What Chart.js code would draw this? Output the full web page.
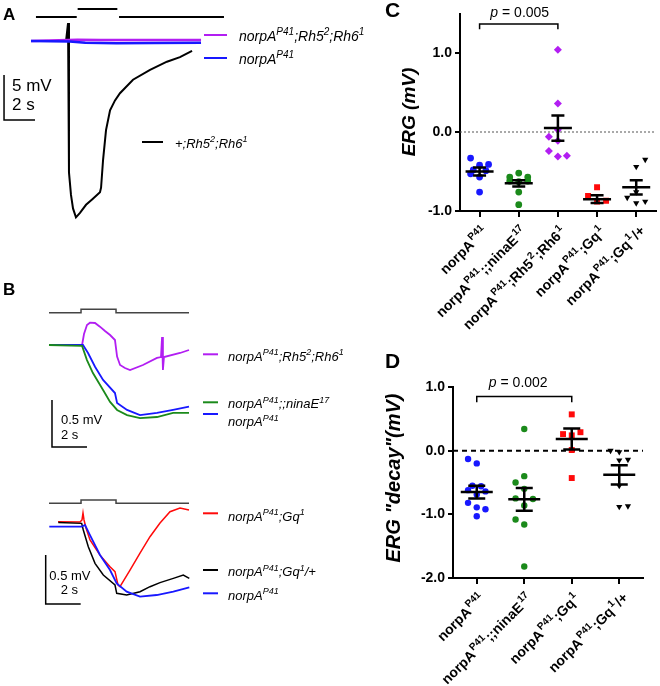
<!DOCTYPE html>
<html>
<head>
<meta charset="utf-8">
<script src="https://cdn.jsdelivr.net/npm/chart.js@4.4.1/dist/chart.umd.min.js"></script>
<style>
  html, body { margin: 0; padding: 0; background: #fff; }
  #fig { position: relative; width: 660px; height: 686px; overflow: hidden; font-family: "Liberation Sans", Arial, sans-serif; }
  #fig canvas { position: absolute; }
  .panel { position: absolute; font-weight: bold; line-height: 1; }
</style>
</head>
<body>
<div id="fig">
  <canvas id="chartA" width="380" height="235" style="left:0;top:0"></canvas>
  <canvas id="chartB" width="380" height="340" style="left:0;top:280px"></canvas>
  <canvas id="chartC" width="330" height="340" style="left:330px;top:0"></canvas>
  <canvas id="chartD" width="330" height="346" style="left:330px;top:340px"></canvas>
  <div class="panel" style="left:3px;top:6px;font-size:17px">A</div>
  <div class="panel" style="left:3px;top:281px;font-size:17px">B</div>
  <div class="panel" style="left:385px;top:-1px;font-size:21px">C</div>
  <div class="panel" style="left:385px;top:350px;font-size:21px">D</div>
</div>
<script>
// ---------- A: ERG traces (s, mV) ----------
const aStimT = [0.32, 2.95, 2.98, 3.01, 5.57, 5.62, 5.68, 12.45];
const aStimV = [2.67, 2.67, null, 3.56, 3.56, null, 2.67, 2.67];
const aPurpleT = [0, 3.0, 4.5, 7.0, 10.97];
const aPurpleV = [0, 0.15, 0.12, 0.10, 0.10];
const aBlueT = [0, 2.5, 3.5, 5.5, 8.0, 10.97];
const aBlueV = [0, -0.05, -0.20, -0.25, -0.22, -0.20];
const aBlackT = [0, 2.26, 2.39, 2.45, 2.58, 2.71, 2.90, 3.16, 3.55, 3.94, 4.45, 4.52, 4.65, 4.84, 5.10, 5.42, 5.74, 6.58, 7.68, 8.77, 9.61, 10.39];
const aBlackV = [0, 0, 2.0, -14.6, -17.1, -18.6, -19.6, -19.1, -18.2, -17.6, -16.8, -16.3, -13.2, -9.9, -7.7, -6.6, -5.8, -4.3, -3.2, -2.3, -1.8, -1.1];

// ---------- B top: norpA / Rh5;Rh6 / ninaE (s, mV) ----------
const bTopStimT = [0, 1.83, 1.83, 3.83, 3.83, 8.0];
const bTopStimV = [0.344, 0.344, 0.380, 0.380, 0.344, 0.344];
const bPurpleT = [0, 1.89, 2.0, 2.17, 2.34, 2.63, 2.91, 3.2, 3.49, 3.77, 3.89, 4.06, 4.34, 4.63, 5.37, 6.17, 6.4, 6.46, 6.51, 6.57, 7.49, 8.0];
const bPurpleV = [0, 0, 0.117, 0.213, 0.237, 0.234, 0.195, 0.149, 0.106, 0.053, -0.124, -0.213, -0.245, -0.266, -0.213, -0.138, -0.128, 0.085, -0.266, -0.128, -0.085, -0.053];
const bGreenT = [0, 1.89, 2.17, 2.51, 3.09, 3.49, 3.89, 4.46, 5.2, 6.17, 7.09, 8.0];
const bGreenV = [0, -0.01, -0.16, -0.298, -0.479, -0.606, -0.691, -0.745, -0.777, -0.766, -0.723, -0.723];
const bBlueT = [0, 1.94, 2.23, 2.63, 3.09, 3.77, 3.89, 4.46, 5.2, 6.17, 7.09, 8.0];
const bBlueV = [0, 0, -0.085, -0.231, -0.372, -0.511, -0.617, -0.691, -0.745, -0.723, -0.691, -0.656];

// ---------- B bottom: Gq (s, mV) ----------
const bBotStimT = [0, 1.83, 1.83, 3.83, 3.83, 8.0];
const bBotStimV = [0.239, 0.239, 0.272, 0.272, 0.239, 0.239];
const bRedT = [0.514, 1.771, 1.886, 1.943, 2.0, 2.114, 2.343, 2.914, 3.486, 3.771, 3.943, 4.057, 4.629, 5.2, 5.771, 6.343, 6.914, 7.486, 8.0];
const bRedV = [0.051, 0.048, 0.069, 0.140, 0.069, -0.013, -0.136, -0.290, -0.409, -0.459, -0.595, -0.612, -0.443, -0.270, -0.102, 0.038, 0.153, 0.191, 0.170];
const bBlackT = [0.533, 1.867, 1.960, 2.246, 2.629, 3.103, 3.771, 3.869, 4.440, 5.2, 5.771, 6.343, 7.103, 7.674, 8.017];
const bBlackV = [0.044, 0.034, -0.034, -0.204, -0.374, -0.493, -0.595, -0.680, -0.697, -0.663, -0.612, -0.571, -0.527, -0.493, -0.527];
const bBlue2T = [0.017, 1.867, 2.057, 2.343, 2.914, 3.486, 3.869, 4.440, 5.2, 6.154, 7.103, 8.017];
const bBlue2V = [0, 0, 0.017, -0.085, -0.289, -0.442, -0.578, -0.663, -0.714, -0.697, -0.663, -0.619];

// ---------- C: ERG amplitude (mV) ----------
const cLabels = ['norpA^{P41}', 'norpA^{P41};;ninaE^{17}', 'norpA^{P41};Rh5^{2};Rh6^{1}', 'norpA^{P41};Gq^{1}', 'norpA^{P41};Gq^{1}/+'];
const cNorpA = [-0.33, -0.42, -0.41, -0.48, -0.49, -0.53, -0.57, -0.76];
const cNorpACol = [-1, 0, 1, -0.7, 0.7, -1, 0, 0];
const cNinaE = [-0.52, -0.57, -0.57, -0.62, -0.63, -0.62, -0.76, -0.92];
const cNinaECol = [0, -1, 1, -1, 0, 1, 0, 0];
const cRh = [1.04, 0.36, 0.03, -0.06, -0.11, -0.24, -0.31, -0.30];
const cRhCol = [0, 0, 0, -1, 0, -1, 0, 1];
const cGq = [-0.70, -0.81, -0.88, -0.87];
const cGqCol = [0, -1, 0, 1];
const cGqHet = [-0.35, -0.44, -0.76, -0.83, -0.90, -0.88];
const cGqHetCol = [1, 0, 0, -1, 0, 1];
const cMeans = [-0.50, -0.65, 0.05, -0.85, -0.70];
const cSems = [0.05, 0.04, 0.16, 0.05, 0.09];
const cPText = 'p = 0.005';

// ---------- D: ERG "decay" (mV) ----------
const dLabels = ['norpA^{P41}', 'norpA^{P41};;ninaE^{17}', 'norpA^{P41};Gq^{1}', 'norpA^{P41};Gq^{1}/+'];
const dNorpA = [-0.13, -0.20, -0.55, -0.56, -0.62, -0.69, -0.64, -0.82, -0.89, -0.92, -1.03];
const dNorpACol = [-1, 0, -0.5, 0.5, -1, 0, 1, -1, 0, 1, 0];
const dNinaE = [0.34, -0.40, -0.50, -0.60, -0.75, -0.76, -0.86, -1.08, -1.16, -1.82];
const dNinaECol = [0, 0, -1, 0, -1, 1, 0, -1, 0, 0];
const dGq = [0.57, 0.26, 0.24, 0.29, 0.01, -0.43];
const dGqCol = [0, -1, 0, 1, 0, 0];
const dGqHet = [0.0, -0.02, -0.15, -0.14, -0.55, -0.88, -0.87];
const dGqHetCol = [-1, 0, 0, 1, 0, 0, 1];
const dMeans = [-0.65, -0.765, 0.185, -0.38];
const dSems = [0.10, 0.18, 0.165, 0.15];
const dPText = 'p = 0.002';

const FONT = '"Liberation Sans", Arial, sans-serif';
const PURPLE = '#b21ef2', BLUE = '#1818ff', GREEN = '#1b8a1b', RED = '#ff0a0a';

// "abc^{sup}" -> segments
function segsOf(s) {
  const out = [];
  s.split(/(\^\{[^}]*\})/).forEach(p => {
    if (!p) return;
    if (p.startsWith('^{')) out.push({ t: p.slice(2, -1), sup: true });
    else out.push({ t: p, sup: false });
  });
  return out;
}

// draws text with superscripts, y is the vertical middle of the main text
function drawRich(ctx, s, x, yMid, o) {
  const size = o.size, supSize = o.sup || Math.round(size * 0.68);
  const gap = o.supGap || 0;
  const fontOf = sup => `${o.italic ? 'italic' : 'normal'} ${o.bold ? 'bold' : 'normal'} ${sup ? supSize : size}px ${FONT}`;
  const segs = segsOf(s);
  let w = 0;
  segs.forEach(g => {
    ctx.font = fontOf(g.sup);
    g.w = ctx.measureText(g.t).width + (g.sup ? gap * 2 : 0);
    w += g.w;
  });
  let cx = o.align === 'right' ? x - w : o.align === 'center' ? x - w / 2 : x;
  const base = yMid + size * 0.36;
  ctx.fillStyle = o.color || '#000';
  ctx.textAlign = 'left';
  ctx.textBaseline = 'alphabetic';
  segs.forEach(g => {
    ctx.font = fontOf(g.sup);
    ctx.fillText(g.t, g.sup ? cx + gap : cx, g.sup ? base - size * 0.42 : base);
    cx += g.w;
  });
  return w;
}

const toXY = (ts, vs) => ts.map((t, i) => ({ x: t, y: vs[i] }));

function trace(ts, vs, color, width, yAxisID) {
  return {
    data: toXY(ts, vs), yAxisID: yAxisID || 'y',
    showLine: true, borderColor: color, borderWidth: width,
    pointRadius: 0, tension: 0, spanGaps: false, clip: false
  };
}

// legends + scale bars for the trace panels
const traceAnnot = {
  id: 'traceAnnot',
  afterDraw(chart, args, opts) {
    const ctx = chart.ctx;
    ctx.save();
    (opts.legend || []).forEach(it => {
      ctx.strokeStyle = it.color;
      ctx.lineWidth = 2;
      ctx.beginPath();
      ctx.moveTo(it.x1, it.y);
      ctx.lineTo(it.x2, it.y);
      ctx.stroke();
      drawRich(ctx, it.text, it.tx, it.ty, { size: it.size, italic: true });
    });
    (opts.bars || []).forEach(b => {
      const xs = chart.scales.x, ys = chart.scales[b.yAxis];
      const x0 = xs.getPixelForValue(b.t), y0 = ys.getPixelForValue(b.v);
      const x1 = xs.getPixelForValue(b.t + b.dt), y1 = ys.getPixelForValue(b.v + b.dv);
      ctx.strokeStyle = '#000';
      ctx.lineWidth = 1.5;
      ctx.beginPath();
      ctx.moveTo(x0, y1);
      ctx.lineTo(x0, y0);
      ctx.lineTo(x1, y0);
      ctx.stroke();
      b.labels.forEach(l => drawRich(ctx, l.text, x0 + l.dx, y0 + l.dy, { size: b.size }));
    });
    ctx.restore();
  }
};

const baseOpts = {
  responsive: false, animation: false, events: [],
  layout: { padding: 0 }
};

new Chart('chartA', {
  type: 'scatter',
  data: {
    datasets: [
      trace(aStimT, aStimV, '#000', 2),
      trace(aBlueT, aBlueV, BLUE, 2.5),
      trace(aPurpleT, aPurpleV, PURPLE, 2.5),
      trace(aBlackT, aBlackV, '#000', 2)
    ]
  },
  options: {
    ...baseOpts,
    plugins: {
      legend: { display: false }, tooltip: { enabled: false },
      traceAnnot: {
        legend: [
          { color: PURPLE, x1: 204, x2: 227, y: 35, tx: 239, ty: 36, size: 14, text: 'norpA^{P41};Rh5^{2};Rh6^{1}' },
          { color: BLUE, x1: 204, x2: 227, y: 58, tx: 239, ty: 59, size: 14, text: 'norpA^{P41}' },
          { color: '#000', x1: 142, x2: 163, y: 142, tx: 175, ty: 143, size: 13, text: '+;Rh5^{2};Rh6^{1}' }
        ],
        bars: [
          { t: -1.74, v: -8.78, dt: 2, dv: 5, yAxis: 'y', size: 17,
            labels: [{ text: '5 mV', dx: 8, dy: -35 }, { text: '2 s', dx: 8, dy: -16 }] }
        ]
      }
    },
    scales: {
      x: { type: 'linear', display: false, min: -2, max: 22.516 },
      y: { display: false, min: -21.556, max: 4.556 }
    }
  },
  plugins: [traceAnnot]
});

new Chart('chartB', {
  type: 'scatter',
  data: {
    datasets: [
      trace(bTopStimT, bTopStimV, '#444', 1.5, 'yTop'),
      trace(bGreenT, bGreenV, GREEN, 1.8, 'yTop'),
      trace(bBlueT, bBlueV, BLUE, 1.8, 'yTop'),
      trace(bPurpleT, bPurpleV, PURPLE, 1.8, 'yTop'),
      trace(bBotStimT, bBotStimV, '#444', 1.5, 'yBot'),
      trace(bBlue2T, bBlue2V, BLUE, 1.8, 'yBot'),
      trace(bBlackT, bBlackV, '#000', 1.5, 'yBot'),
      trace(bRedT, bRedV, RED, 1.5, 'yBot')
    ]
  },
  options: {
    ...baseOpts,
    plugins: {
      legend: { display: false }, tooltip: { enabled: false },
      traceAnnot: {
        legend: [
          { color: PURPLE, x1: 203, x2: 218, y: 74.3, tx: 228, ty: 76, size: 13, text: 'norpA^{P41};Rh5^{2};Rh6^{1}' },
          { color: GREEN, x1: 203, x2: 218, y: 122.3, tx: 228, ty: 123.3, size: 13, text: 'norpA^{P41};;ninaE^{17}' },
          { color: BLUE, x1: 203, x2: 218, y: 134, tx: 228, ty: 141.7, size: 13, text: 'norpA^{P41}' },
          { color: RED, x1: 203, x2: 218, y: 233.3, tx: 228, ty: 236, size: 13, text: 'norpA^{P41};Gq^{1}' },
          { color: '#000', x1: 203, x2: 218, y: 290, tx: 228, ty: 291.7, size: 13, text: 'norpA^{P41};Gq^{1}/+' },
          { color: BLUE, x1: 203, x2: 218, y: 313.3, tx: 228, ty: 315, size: 13, text: 'norpA^{P41}' }
        ],
        bars: [
          { t: 0.171, v: -1.085, dt: 2, dv: 0.5, yAxis: 'yTop', size: 13,
            labels: [{ text: '0.5 mV', dx: 9, dy: -28 }, { text: '2 s', dx: 9, dy: -13 }] },
          { t: -0.189, v: -0.789, dt: 2, dv: 0.5, yAxis: 'yBot', size: 13,
            labels: [{ text: '0.5 mV', dx: 3.6, dy: -29 }, { text: '2 s', dx: 15, dy: -15 }] }
        ]
      }
    },
    scales: {
      x: { type: 'linear', display: false, min: -2.8, max: 18.914 },
      yTop: { display: false, min: -2.9255, max: 0.6915 },
      yBot: { display: false, min: -0.952, max: 2.5173 }
    }
  },
  plugins: [traceAnnot]
});

// ---------- dot plots ----------
const dotAnnot = {
  id: 'dotAnnot',
  afterDatasetsUpdate(chart, args, opts) {
    chart.data.datasets.forEach((ds, i) => {
      chart.getDatasetMeta(i).data.forEach((el, j) => { el.x += ds.data[j].c * opts.jitter; });
    });
  },
  beforeDatasetsDraw(chart, args, opts) {
    const { ctx, chartArea: a, scales: { y } } = chart;
    const y0 = y.getPixelForValue(0);
    ctx.save();
    ctx.strokeStyle = opts.zero.color;
    ctx.lineWidth = opts.zero.width;
    ctx.setLineDash(opts.zero.dash);
    ctx.beginPath();
    ctx.moveTo(a.left, y0);
    ctx.lineTo(a.right, y0);
    ctx.stroke();
    ctx.restore();
  },
  afterDatasetsDraw(chart, args, opts) {
    const { ctx, scales: { x, y } } = chart;
    ctx.save();
    ctx.strokeStyle = '#000';
    ctx.lineWidth = 2.5;
    opts.means.forEach((m, i) => {
      const cx = x.getPixelForValue(i), ym = y.getPixelForValue(m);
      const yt = y.getPixelForValue(m + opts.sems[i]), yb = y.getPixelForValue(m - opts.sems[i]);
      ctx.beginPath();
      ctx.moveTo(cx - opts.meanHalf, ym); ctx.lineTo(cx + opts.meanHalf, ym);
      ctx.moveTo(cx - opts.capHalf, yt); ctx.lineTo(cx + opts.capHalf, yt);
      ctx.moveTo(cx - opts.capHalf, yb); ctx.lineTo(cx + opts.capHalf, yb);
      ctx.moveTo(cx, yt); ctx.lineTo(cx, yb);
      ctx.stroke();
    });
    ctx.restore();
  },
  afterDraw(chart, args, opts) {
    const { ctx, scales: { x, y } } = chart;
    ctx.save();
    // significance bracket
    const br = opts.bracket;
    const xa = x.getPixelForValue(br.from), xb = x.getPixelForValue(br.to);
    const yl = y.getPixelForValue(br.y), ye = y.getPixelForValue(br.yEnd);
    ctx.strokeStyle = '#000';
    ctx.lineWidth = 1.5;
    ctx.beginPath();
    ctx.moveTo(xa, ye); ctx.lineTo(xa, yl); ctx.lineTo(xb, yl); ctx.lineTo(xb, ye);
    ctx.stroke();
    const pc = (xa + xb) / 2 + br.textDx, py = yl + br.textDy;
    ctx.font = `italic 14px ${FONT}`;
    const wp = ctx.measureText('p').width;
    ctx.font = `14px ${FONT}`;
    const rest = br.text.slice(1);
    const wr = ctx.measureText(rest).width;
    ctx.fillStyle = '#000';
    ctx.textBaseline = 'middle';
    ctx.textAlign = 'left';
    ctx.font = `italic 14px ${FONT}`;
    ctx.fillText('p', pc - (wp + wr) / 2, py);
    ctx.font = `14px ${FONT}`;
    ctx.fillText(rest, pc - (wp + wr) / 2 + wp, py);
    // y title
    ctx.save();
    ctx.translate(opts.title.x, opts.title.y);
    ctx.rotate(-Math.PI / 2);
    drawRich(ctx, opts.title.text, 0, 0, { size: opts.title.size, bold: true, italic: true, align: 'center' });
    ctx.restore();
    // rotated category labels
    opts.labels.forEach((lbl, i) => {
      ctx.save();
      ctx.translate(x.getPixelForValue(i) + opts.labelDx, x.top + opts.labelDy);
      ctx.rotate(-Math.PI / 4);
      drawRich(ctx, lbl, 0, 0, { size: 14, sup: 10, bold: true, align: 'right', supGap: 1.2 });
      ctx.restore();
    });
    ctx.restore();
  }
};

function dotChart(id, groups, o) {
  const styles = [
    { color: BLUE, style: 'circle', r: o.r, rot: 0 },
    { color: GREEN, style: 'circle', r: o.r, rot: 0 },
    { color: PURPLE, style: 'rectRot', r: 4, rot: 0 },
    { color: RED, style: 'rect', r: 4.2, rot: 0 },
    { color: '#000', style: 'triangle', r: 3.6, rot: 180 }
  ];
  const axisLine = { display: true, color: '#000', width: 2 };
  return new Chart(id, {
    type: 'scatter',
    data: {
      datasets: groups.map((g, i) => {
        const st = styles[g.style];
        return {
          data: g.vals.map((v, j) => ({ x: i, y: v, c: g.cols[j] })),
          pointStyle: st.style, pointRadius: st.r, pointHoverRadius: st.r, pointRotation: st.rot,
          backgroundColor: st.color, borderWidth: 0
        };
      })
    },
    options: {
      ...baseOpts,
      layout: { padding: o.padding },
      plugins: {
        legend: { display: false }, tooltip: { enabled: false },
        dotAnnot: {
          jitter: o.jitter, means: o.means, sems: o.sems,
          meanHalf: o.meanHalf, capHalf: o.capHalf,
          zero: o.zero, bracket: o.bracket, title: o.title,
          labels: o.labels, labelDx: 6, labelDy: 17
        }
      },
      scales: {
        x: {
          type: 'linear', min: -0.5, max: o.labels.length - 0.5,
          afterBuildTicks: s => { s.ticks = o.labels.map((_, i) => ({ value: i })); },
          ticks: { display: false },
          grid: { drawOnChartArea: false, drawTicks: true, tickLength: 6, color: '#000', lineWidth: 2 },
          border: axisLine,
          afterFit: s => { s.height = o.xHeight; }
        },
        y: {
          min: o.yMin, max: o.yMax,
          ticks: {
            stepSize: 1, includeBounds: false, padding: 3, color: '#000',
            font: { family: FONT, size: 14, weight: 'bold' },
            callback: v => v.toFixed(1)
          },
          grid: { drawOnChartArea: false, drawTicks: true, tickLength: 5, color: '#000', lineWidth: 2 },
          border: axisLine,
          afterFit: s => { s.width = o.yWidth; }
        }
      }
    },
    plugins: [dotAnnot]
  });
}

dotChart('chartC', [
  { vals: cNorpA, cols: cNorpACol, style: 0 },
  { vals: cNinaE, cols: cNinaECol, style: 1 },
  { vals: cRh, cols: cRhCol, style: 2 },
  { vals: cGq, cols: cGqCol, style: 3 },
  { vals: cGqHet, cols: cGqHetCol, style: 4 }
], {
  labels: cLabels, means: cMeans, sems: cSems,
  yMin: -1, yMax: 1.5, yWidth: 130, xHeight: 129,
  padding: { top: 13.5, right: 3, left: 0, bottom: 0 },
  r: 3.4, jitter: 9, meanHalf: 14, capHalf: 6.5,
  zero: { color: '#555', width: 1, dash: [2, 2] },
  bracket: { from: 0, to: 2, y: 1.367, yEnd: 1.30, text: cPText, textDx: 1, textDy: -11 },
  title: { text: 'ERG (mV)', x: 78, y: 112, size: 19 }
});

dotChart('chartD', [
  { vals: dNorpA, cols: dNorpACol, style: 0 },
  { vals: dNinaE, cols: dNinaECol, style: 1 },
  { vals: dGq, cols: dGqCol, style: 3 },
  { vals: dGqHet, cols: dGqHetCol, style: 4 }
], {
  labels: dLabels, means: dMeans, sems: dSems,
  yMin: -2, yMax: 1, yWidth: 123, xHeight: 108,
  padding: { top: 47, right: 17, left: 0, bottom: 0 },
  r: 3.2, jitter: 8.7, meanHalf: 16, capHalf: 8.5,
  zero: { color: '#000', width: 2, dash: [5, 4] },
  bracket: { from: 0, to: 2, y: 0.85, yEnd: 0.76, text: dPText, textDx: -6, textDy: -13 },
  title: { text: 'ERG "decay"(mV)', x: 63, y: 138, size: 20 }
});
</script>
</body>
</html>
